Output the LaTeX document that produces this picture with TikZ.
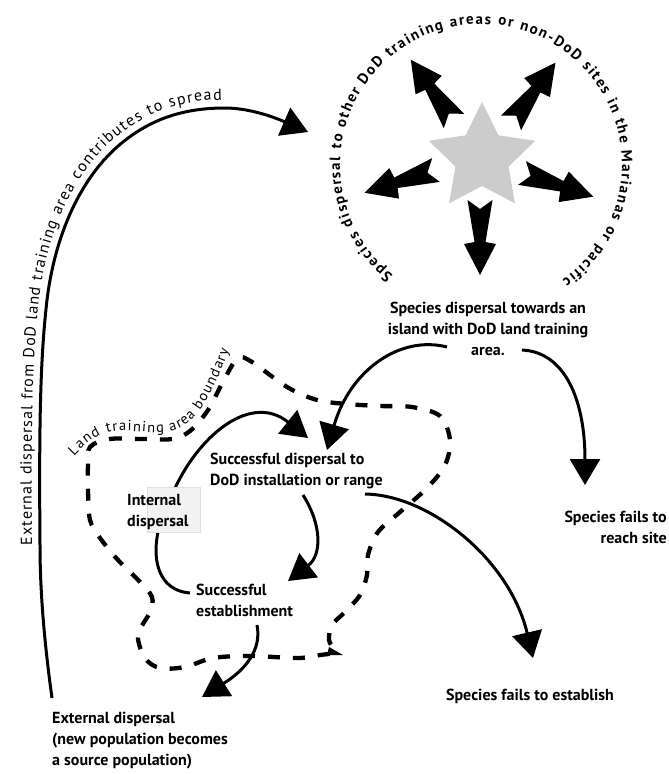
\documentclass[tikz,border=0pt]{standalone}
\usepackage{fontspec}
\setmainfont{PT Sans}
\usetikzlibrary{arrows.meta,decorations.text}
\newcommand\lblfont{\fontsize{16}{21}\selectfont\bfseries}
\newcommand\curvefont{\fontsize{16}{16}\selectfont}
\newcommand\circfont{\fontsize{15}{15}\selectfont\bfseries}
\newcommand\bndfont{\fontsize{14.5}{14.5}\selectfont}
\definecolor{starfill}{gray}{0.80}
\tikzset{
  flow/.style={line width=3pt, -{Triangle[length=26pt,width=30pt]}},
  bound/.style={line width=4.3pt, dash pattern=on 12pt off 13pt},
  lbl/.style={font=\lblfont, inner sep=0pt},
  starray/.pic={\fill (0,12.5) -- (42,5.5) -- (44,16) -- (75,0) -- (44,-16) -- (42,-5.5) -- (0,-12.5) -- (9,0) -- cycle;},
}
\begin{document}
\begin{tikzpicture}[x=1pt,y=1pt]
\useasboundingbox (0,0) rectangle (669,-774);

% star
\fill[starfill, shift={(482,-158)}] (90:56) -- (126:28) -- (162:56) -- (198:28) -- (234:56) -- (270:28) -- (306:56) -- (342:28) -- (18:56) -- (54:28) -- cycle;
\pic[rotate=125.2] at (454,-121) {starray};
\pic[rotate=53.6] at (511,-123) {starray};
\pic[rotate=197.7] at (436,-170) {starray};
\pic[rotate=-18.4] at (522,-173) {starray};
\pic[rotate=-90] at (480,-200) {starray};

% circular text
\path[decorate, decoration={text along path, text align={fit to path},
  text={|\circfont|Species dispersal to other DoD training areas or non-DoD sites in the Marianas or pacific}}]
  (481,-165) ++(231.5:141) arc[start angle=231.5, end angle=-54.8, radius=141];

% big external arc
\coordinate (extS) at (52,-698);
\coordinate (extE) at (308,-132);
\draw[flow] (extS) .. controls (44,-640) and (40,-590) .. (40,-545) .. controls (39,-430) and (40,-360) .. (47,-300) .. controls (55,-235) and (80,-180) .. (117,-147) .. controls (150,-118) and (185,-108) .. (225,-108) .. controls (255,-108) and (285,-122) .. (extE);
\path[decorate, decoration={text along path, raise=8pt, text align={fit to path},
  text={|\curvefont|External dispersal from DoD land training area contributes to spread}}]
  (40,-545) .. controls (39,-430) and (40,-360) .. (47,-300) .. controls (55,-235) and (80,-180) .. (117,-147) .. controls (150,-118) and (185,-108) .. (222,-108);

% boundary
\draw[bound] plot[smooth cycle, tension=0.55] coordinates {
 (90,-447) (110,-439) (142,-439) (172,-439) (190,-431) (208,-410) (225,-378) (238,-358)
 (252,-362) (287,-387) (317,-400) (347,-404) (380,-406) (412,-407) (440,-416) (450,-440)
 (445,-465) (427,-488) (400,-512) (378,-532) (368,-555) (367,-575) (360,-595) (345,-612)
 (332,-625) (329,-640) (334,-652) (320,-655) (298,-658) (250,-656) (213,-658) (185,-667)
 (160,-668) (145,-658) (138,-635) (150,-612) (152,-597) (140,-582) (118,-560) (100,-538)
 (90,-520) (88,-490) (88,-465)};
\fill (329,-647) -- (343,-655) -- (327,-655) -- cycle;
\path[decorate, decoration={text along path, text align={fit to path},
  text={|\bndfont|Land training area boundary}}]
  (74,-456) .. controls (86,-444) and (96,-432) .. (120,-431) .. controls (145,-430) and (162,-437) .. (182,-427) .. controls (202,-416) and (218,-380) .. (229,-350);

% labels
\node[lbl, align=center, anchor=north] (Larea) at (488,-302) {Species dispersal towards an\\island with DoD land training\\area.};
\node[lbl, align=right, anchor=north east] (Lreach) at (667,-511) {Species fails to\\reach site};
\node[lbl, anchor=base] (Lfailest) at (530,-700) {Species fails to establish};
\node[lbl, align=left, anchor=north west] (Lsuccdisp) at (210,-453) {Successful dispersal to\\DoD installation or range};
\node[lbl, align=left, anchor=north west] (Lsuccest) at (196,-584) {Successful\\establishment};
\node[lbl, align=left, anchor=north west] (Lexternal) at (52,-712) {External dispersal\\(new population becomes\\a source population)};

% connectors
\coordinate (a2s) at (447,-347);
\coordinate (a2e) at (327,-450);
\draw[flow] (a2s) .. controls (400,-335) and (350,-370) .. (a2e);
\coordinate (a3s) at (522,-350);
\coordinate (a3e) at (585,-485);
\draw[flow] (a3s) .. controls (565,-352) and (585,-400) .. (a3e);
\coordinate (a4s) at (190,-593);
\coordinate (a4e) at (308,-438);
\draw[flow] (a4s) .. controls (150,-590) and (148,-540) .. (170,-500) .. controls (192,-442) and (248,-390) .. (a4e);
\coordinate (a5s) at (303,-495);
\coordinate (a5e) at (288,-581);
\draw[flow] (a5s) .. controls (322,-525) and (322,-555) .. (a5e);
\coordinate (a6s) at (365,-494);
\coordinate (a6e) at (533,-658);
\draw[flow] (a6s) .. controls (430,-495) and (510,-560) .. (a6e);
\coordinate (a7s) at (257,-625);
\coordinate (a7e) at (202,-697);
\draw[flow] (a7s) .. controls (262,-650) and (245,-670) .. (a7e);

% internal dispersal box and label
\draw[fill=gray!10, draw=gray!25, line width=0.6pt] (147,-487) rectangle (200,-532);
\node[lbl, align=left, anchor=north west] (Linternal) at (127,-494) {Internal\\dispersal};
\end{tikzpicture}
\end{document}
